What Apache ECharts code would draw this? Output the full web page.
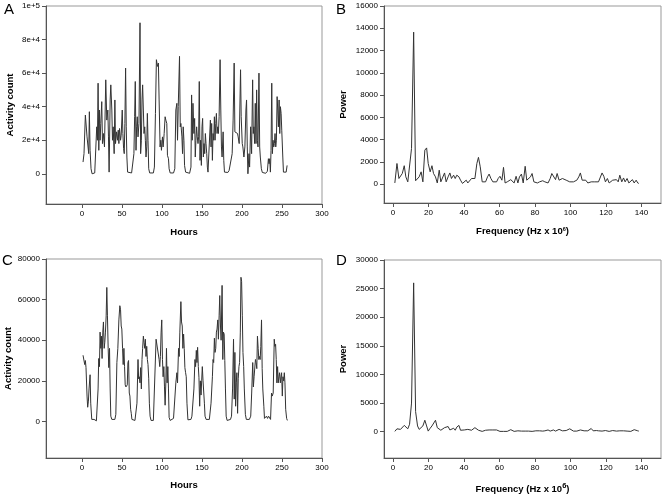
<!DOCTYPE html>
<html><head><meta charset="utf-8">
<script src="https://cdn.jsdelivr.net/npm/echarts@6/dist/echarts.min.js"></script>
<style>html,body{margin:0;padding:0;background:#fff}#c{width:662px;height:498px}</style>
</head><body><div id="c"></div>
<script>
// ---------- DATA ----------
// Panel A: hourly activity counts [hour, count]
const hoursA = [1.3,2.5,4.2,5.4,6.3,7.5,8.4,9.2,10.1,11.3,12.6,15.9,17.6,18.4,19.3,20.1,21,21.8,22.6,23.5,24.7,25.6,26.8,28.1,29.7,31,32.3,33.1,33.9,35.2,36,37.3,38.1,39,40.2,41.1,41.9,43.2,44.4,45.3,46.1,46.9,48.2,49,50.3,51.1,52,52.8,53.6,54.5,55.3,56.1,57,58.2,62,64.1,64.9,65.8,66.6,67.5,68.3,69.1,70,71.2,72.5,73.3,74.2,75,75.8,76.7,77.5,78.4,79.2,80,80.9,81.7,82.5,83.4,84.6,89.2,90.5,91.8,93,94.3,95.5,96.4,97.6,98.5,99.3,100.6,101.4,102.7,103.9,104.8,106,106.8,108.1,108.9,110.2,114.4,116,117.3,118.6,119.4,120.3,121.9,122.8,123.6,124.9,125.7,126.5,127.4,128.2,129.5,131.1,134.5,136.2,137,137.8,138.7,139.9,140.8,141.6,142.4,143.3,144.1,145,145.8,146.6,147.5,148.3,149.2,150,150.8,151.7,152.5,153.4,154.2,155,155.9,156.7,157.5,159.2,160.5,161.3,162.1,163,163.8,164.6,165.5,166.3,167.2,168,168.8,169.7,170.5,171.4,172.6,173.5,174.3,175.1,176.4,177.2,178.1,179.7,182.3,183.9,185.2,186.4,187.7,188.9,190.2,191.1,192.3,193.6,194.4,195.2,196.5,198.2,199,200.3,201.1,202.4,203.6,204.9,205.7,206.6,207.4,208.7,209.5,210.8,212,213.3,214.1,214.9,215.8,216.6,217.5,218.3,219.2,220,221.2,222.1,222.9,224.2,225.4,229.6,231.7,233,233.8,234.6,235.5,236.3,237.2,238,238.8,239.7,240.5,241.3,242.2,243,243.9,244.7,245.5,246.4,247.2,248,248.9,249.7,251,251.8,253.5,255.2,256.4];
const countsA = [7000,12000,35000,34000,22000,22000,12000,37000,14000,3000,0,500,1000,28000,20000,54000,14000,38000,20000,30000,43000,18000,24000,16000,56000,32000,38000,22000,1000,44000,53000,38000,20000,28000,12000,44000,18000,25000,20000,26000,18000,27000,20000,23000,38000,24000,15000,12000,30000,63000,28000,10000,1000,0,500,1000,12000,34000,55000,14000,28000,34000,22000,30000,90000,12000,20000,44000,53000,38000,24000,28000,20000,10000,16000,36000,20000,3000,500,500,4000,36000,68000,64000,66000,44000,16000,20000,14000,22000,16000,24000,34000,32000,30000,11000,9000,3000,500,500,3000,38000,42000,20000,40000,70000,28000,30000,22000,12000,28000,20000,5000,1000,300,300,4000,47000,20000,42000,24000,33000,10000,20000,28000,22000,18000,22000,55000,8000,20000,5000,28000,33000,10000,18000,12000,24000,18000,12000,4000,1000,800,32000,16000,30000,8000,24000,20000,34000,20000,30000,36000,24000,28000,24000,34000,68000,38000,16000,10000,25000,8000,1000,300,800,2000,1000,1500,12000,32000,66000,25000,26000,25000,24000,22000,18000,62000,34000,18000,16000,10000,16000,38000,44000,16000,0,12000,4000,28000,12000,56000,24000,28000,18000,42000,18000,50000,20000,16000,60000,16000,10000,3000,800,300,1500,9000,6000,9000,1000,14000,54000,12000,20000,16000,18000,24000,16000,20000,46000,38000,28000,44000,24000,40000,36000,26000,10000,1000,300,1000,5000];

// Panel B: power spectrum of A [frequency, power]
const freqB = [1.1,2.3,3.4,4.3,5.3,6.4,7.3,8.4,9.4,10.5,11.7,12.8,13.9,14.8,15.9,16.9,18,19,19.9,21,22,22.9,24,25,26.1,27,28,29.1,30,31.1,32.1,33,34.2,35.1,36,37.2,38.1,39.2,40.2,41.3,42.2,43.2,44.3,45.2,46.2,47.3,48.2,49.2,50.3,51.2,52.2,53.3,54.2,55.2,56.3,57.2,58.4,59.3,60.3,61.4,62.3,63.2,64.4,65.3,66.4,67.4,68.3,69.4,70.4,71.3,72.4,73.4,74.5,75.4,76.4,77.5,78.4,79.4,80.5,81.4,82.6,83.5,84.4,85.6,86.5,87.4,88.6,89.5,90.4,91.6,92.5,93.6,94.6,95.5,96.6,97.6,98.5,99.6,100.6,101.7,102.6,103.6,104.7,105.6,106.6,107.7,108.6,109.8,110.7,111.7,112.8,113.7,114.6,115.8,116.7,117.8,118.8,119.7,120.8,121.8,122.7,123.8,124.8,125.9,126.9,127.8,128.9,129.9,130.8,131.9,132.9,134,134.9,135.9,137,137.9,138.5];
const powerB = [100,1850,500,350,950,1650,650,200,350,3200,13650,300,350,650,1100,200,3050,3250,1850,1100,1650,950,650,100,1250,200,350,1000,200,650,1000,500,800,500,800,650,350,60,100,350,100,200,500,600,500,1850,2400,1550,200,350,200,650,900,500,200,100,200,500,700,350,1500,100,200,350,400,500,100,700,100,650,900,100,1600,350,350,650,950,200,200,100,200,200,300,200,100,100,500,950,900,400,950,350,500,500,400,350,350,200,350,200,100,350,650,1000,350,200,350,100,100,200,200,200,300,200,350,1000,700,200,500,100,200,350,200,400,200,800,200,550,200,500,100,200,400,100,350,100,60];

// Panel C: hourly activity counts [hour, count]
const hoursC = [1.3,2.5,3.4,4.2,5,6.3,7.1,8,8.8,10.1,10.9,12.2,13.4,15.1,16.3,18,18.9,20.1,20.9,21.8,22.6,23.5,24.3,25.1,26,26.8,27.7,28.5,29.3,30.2,31,31.8,32.7,33.5,34.4,35.2,36,37.3,39.4,41.1,42.3,43.6,44.8,46.1,47.3,48.2,49,49.8,50.7,51.5,52.4,53.2,54,54.9,55.7,56.6,57.4,58.2,59.1,59.9,60.8,61.6,62.4,64.1,66.2,67.5,68.7,70,70.8,71.6,72.5,73.3,74.2,75,75.8,76.7,77.5,78.4,79.2,80,80.9,81.7,82.5,83.4,84.2,85.1,86.3,89.2,91.3,92.6,93.9,95.1,96.4,97.2,98,98.9,99.7,100.6,101.4,102.3,103.1,103.9,104.8,105.6,106.4,107.3,108.1,108.9,110.2,112.3,114.4,116.1,117.3,118.6,119.4,120.7,121.5,122.3,123.6,124.4,125.3,126.1,127,127.8,128.6,129.5,130.3,131.2,132.4,134.5,136.2,137.4,138.7,139.9,141.2,142,142.9,143.7,144.5,145.4,146.2,147.1,147.9,148.8,149.6,150.4,151.3,152.1,153,153.8,155.1,157.2,159.2,161.3,163,163.8,164.6,165.5,166.3,167.2,168,168.8,169.7,170.5,171.4,172.2,173.1,173.9,175.1,176,176.8,177.7,178.5,179.3,180.2,181.4,183.5,185.6,186.9,188.2,189.4,190.3,191.1,192,192.8,193.6,194.5,195.3,196.2,197,197.9,198.7,199.5,200.4,201.2,202.1,202.9,204.2,205.4,207.5,209.2,210.9,212.1,213.4,214.2,215.1,215.9,216.8,217.6,218.5,219.3,220.2,221,221.8,222.7,223.5,224.4,225.2,226,227.3,228.1,229.4,230.6,231.9,233.2,234.4,235.7,236.9,237.8,239,240.3,241.1,242,242.8,243.6,244.5,245.3,246.2,247,247.9,248.7,249.5,250.4,251.2,252.1,252.9,253.7,254.6,255.8,256.7];
const countsC = [32600,32000,28000,30000,26500,12500,7000,10000,16000,23000,9000,1000,500,1000,500,300,800,16000,31000,27000,44000,36000,42000,31000,44000,49000,36000,39000,44000,52000,66000,52000,36000,26500,36000,16000,2600,1000,500,1000,3500,29000,36000,50000,57000,55000,47000,45500,36000,28000,36000,27000,18000,17000,16500,18000,29000,30000,14000,12500,6000,4000,1000,300,500,1000,9000,30500,21000,22000,19000,26500,16000,30500,36000,42000,39000,36000,40500,32000,37000,30500,28000,21000,9000,2600,500,500,1000,40500,40000,41000,30500,27000,32000,44000,50000,30500,22000,27000,17000,8000,19000,36000,19000,27000,16000,2000,500,800,1500,2000,19000,24000,19000,36000,32000,44000,59000,49000,47000,36000,43000,36000,26500,24000,22000,9000,800,500,1000,2600,3500,16000,30500,27000,35000,29000,36500,27000,21500,7500,20000,13000,20000,27000,20000,20000,9000,2600,1000,500,1000,9000,22000,30500,29000,41000,34000,36000,44000,45500,50000,40500,52000,62000,47000,40000,67000,30500,44000,43000,30000,16000,2600,500,500,1000,2600,16000,40500,11000,34000,7500,19000,24000,4000,21000,27000,29000,44000,71000,69000,52000,34000,27000,16000,3500,1000,500,1000,2600,14000,29000,17000,22000,22000,30500,29000,26000,42000,36000,30500,32000,30500,37000,50000,26000,16000,7500,1500,1500,2600,1500,2600,2600,1000,14000,12500,14000,40500,37000,38000,30500,19000,27000,19000,22000,24000,19000,22000,24000,12500,22000,20000,24000,19000,6000,1500,500];

// Panel D: power spectrum of C [frequency, power]
const freqD = [1.1,2.3,3.4,4.3,5.3,6.4,7.3,8.4,9.4,10.5,11.7,12.8,13.9,14.8,15.9,16.9,18,19,19.9,21,22,22.9,24,25,26.1,27,28,29.1,30,31.1,32.1,33,34.2,35.1,36,37.2,38.1,39.2,40.2,41.3,42.2,43.2,44.3,45.2,46.2,47.3,48.2,49.2,50.3,51.2,52.2,53.3,54.2,55.2,56.3,57.2,58.4,59.3,60.3,61.4,62.3,63.4,64.4,65.3,66.4,67.4,68.3,69.4,70.4,71.3,72.4,73.4,74.5,75.4,76.4,77.5,78.4,79.4,80.5,81.4,82.6,83.5,84.4,85.6,86.5,87.4,88.6,89.5,90.4,91.6,92.5,93.6,94.6,95.5,96.6,97.6,98.5,99.6,100.6,101.7,102.6,103.6,104.7,105.6,106.6,107.7,108.6,109.8,110.7,111.7,112.8,113.7,114.6,115.8,116.7,117.8,118.8,119.7,120.8,121.8,122.7,123.8,124.8,125.9,126.9,127.8,128.9,129.9,130.8,131.9,132.9,134,134.9,135.9,137,137.9,138.5];
const powerD = [50,500,250,400,700,1100,1300,500,1300,5000,26000,3500,1000,400,100,1000,2000,1000,100,600,1000,1000,2000,700,900,250,400,700,500,900,300,400,600,250,800,1100,250,400,300,100,400,100,250,400,700,600,250,100,50,100,250,400,300,100,300,100,300,100,50,100,50,100,50,150,350,100,50,100,150,300,100,50,100,50,100,150,50,100,150,400,150,50,100,150,100,300,100,150,300,100,200,400,200,150,300,200,450,500,300,100,150,100,200,300,100,150,100,150,300,550,150,100,200,150,50,100,150,200,100,50,100,200,300,100,50,150,100,150,50,100,150,50,200,350,200,150,100];

// Tick values / labels
const xTicksHours = [0,50,100,150,200,250,300];
const xTicksFreq = [0,20,40,60,80,100,120,140];
const yTicksA = [0,20000,40000,60000,80000,100000];
const yTickLabelsA = ['0','2e+4','4e+4','6e+4','8e+4','1e+5'];
const yTicksB = [0,2000,4000,6000,8000,10000,12000,14000,16000];
const yTicksC = [0,20000,40000,60000,80000];
const yTicksD = [0,5000,10000,15000,20000,25000,30000];
const panelLetters = ['A','B','C','D'];

// ---------- CHART ----------
const FONT = '"Liberation Sans", Arial, sans-serif';
const pairs = (xs, ys) => xs.map((x, i) => [x, ys[i]]);
const plain = v => String(v);

function xAx(idx, min, max, ticks, name, gap, rich) {
  return {
    type: 'value', gridIndex: idx, min, max, name, nameLocation: 'middle', nameGap: gap,
    nameTextStyle: { fontFamily: FONT, fontWeight: 'bold', fontSize: 9.5, color: '#000', rich },
    axisLine: { show: true, onZero: false, lineStyle: { color: '#555', width: 1 } },
    axisTick: { show: true, inside: false, length: 4, customValues: ticks, lineStyle: { color: '#555' } },
    axisLabel: { customValues: ticks, fontFamily: FONT, fontSize: 8, color: '#000', margin: 6, formatter: plain },
    splitLine: { show: false }
  };
}
function yAx(idx, min, max, ticks, name, gap, fmt) {
  return {
    type: 'value', gridIndex: idx, min, max, name, nameLocation: 'middle', nameGap: gap,
    nameTextStyle: { fontFamily: FONT, fontWeight: 'bold', fontSize: 9.5, color: '#000' },
    axisLine: { show: true, onZero: false, lineStyle: { color: '#555', width: 1 } },
    axisTick: { show: true, inside: false, length: 4, customValues: ticks, lineStyle: { color: '#555' } },
    axisLabel: { customValues: ticks, fontFamily: FONT, fontSize: 8, color: '#000', margin: 6, formatter: fmt || plain },
    splitLine: { show: false }
  };
}
function line(idx, data) {
  return {
    type: 'line', xAxisIndex: idx, yAxisIndex: idx, data, showSymbol: false, symbol: 'none',
    lineStyle: { color: '#333', width: 1 }, animation: false, silent: true
  };
}
const gridStyle = { show: true, borderColor: '#999', borderWidth: 1, backgroundColor: 'transparent' };
const supRich = (fs, pad) => ({ sup: { fontFamily: FONT, fontWeight: 'bold', fontSize: fs, color: '#000', verticalAlign: 'top', padding: [0, 0, pad, 0] } });

const chart = echarts.init(document.getElementById('c'), null, { renderer: 'canvas' });
chart.setOption({
  animation: false,
  backgroundColor: '#fff',
  title: [
    { text: panelLetters[0], left: 4, top: 2 },
    { text: panelLetters[1], left: 336, top: 2 },
    { text: panelLetters[2], left: 2, top: 253 },
    { text: panelLetters[3], left: 336, top: 253 }
  ].map(t => Object.assign(t, { textStyle: { fontFamily: FONT, fontWeight: 'normal', fontSize: 15, color: '#000' }, padding: 0 })),
  grid: [
    Object.assign({ left: 46, top: 6, width: 276, height: 198 }, gridStyle),
    Object.assign({ left: 384, top: 6, width: 277, height: 197 }, gridStyle),
    Object.assign({ left: 46, top: 259, width: 276, height: 199 }, gridStyle),
    Object.assign({ left: 384, top: 260, width: 277, height: 198 }, gridStyle)
  ],
  xAxis: [
    xAx(0, -45, 300, xTicksHours, 'Hours', 23),
    xAx(1, -5, 151, xTicksFreq, 'Frequency (Hz x 10{sup|6})', 23, supRich(5.5, 5)),
    xAx(2, -45, 300, xTicksHours, 'Hours', 22),
    xAx(3, -5, 151, xTicksFreq, 'Frequency (Hz x 10{sup|6})', 24, supRich(7.5, 6))
  ],
  yAxis: [
    yAx(0, -18000, 100000, yTicksA, 'Activity count', 31, v => yTickLabelsA[yTicksA.indexOf(v)] ?? ''),
    yAx(1, -1700, 16000, yTicksB, 'Power', 36),
    yAx(2, -18000, 80000, yTicksC, 'Activity count', 31),
    yAx(3, -4600, 30000, yTicksD, 'Power', 36)
  ],
  series: [
    line(0, pairs(hoursA, countsA)),
    line(1, pairs(freqB, powerB)),
    line(2, pairs(hoursC, countsC)),
    line(3, pairs(freqD, powerD))
  ]
});
</script></body></html>
